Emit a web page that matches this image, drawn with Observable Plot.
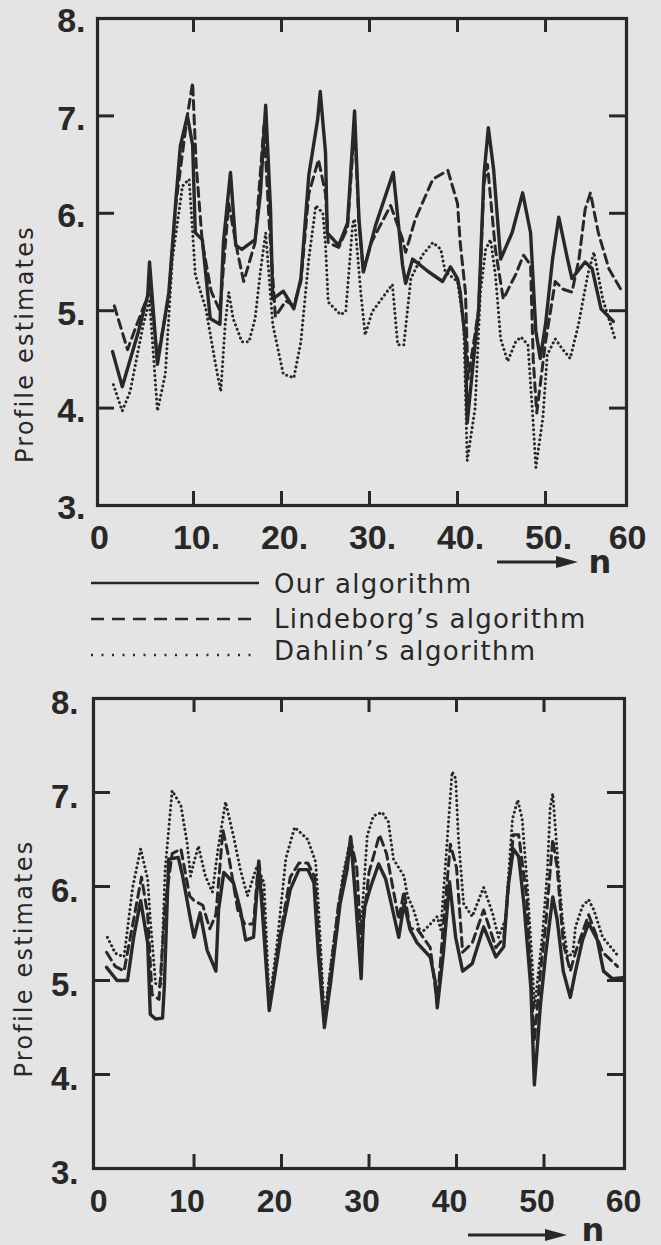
<!DOCTYPE html>
<html><head><meta charset="utf-8">
<script src="https://cdn.jsdelivr.net/npm/d3@7"></script>
<script src="https://cdn.jsdelivr.net/npm/@observablehq/plot@0.6"></script>
<style>
html,body{margin:0;padding:0;background:#e4e4e4;}
#page{position:relative;width:661px;height:1245px;overflow:hidden;background:#e4e4e4;}
#top,#bottom,.over{position:absolute;left:0;}
#top{top:0;} #bottom{top:680px;}
</style></head>
<body><div id="page"><div id="top"></div><div id="bottom"></div>
<svg class="over" id="legend" width="661" height="140" style="top:540px"></svg>
<svg class="over" id="arrow2" width="661" height="45" style="top:1200px"></svg>
</div>
<script>
// ---- data: [n, profile estimate] ----
const yTitle = "Profile estimates";
const seriesNames = ["Our algorithm", "Lindeborg\u2019s algorithm", "Dahlin\u2019s algorithm"];
const yLabels = [3, 4, 5, 6, 7, 8];
const yInnerTicks = [4, 5, 6, 7];
const xInnerTicks = [10, 20, 30, 40, 50];
const xEndTicks = [0, 60];

const topOur = [[0.8,4.58],[1.9,4.22],[3.75,4.79],[4.8,5.16],[5.0,5.5],[5.9,4.45],[7.2,5.19],[8.0,6.14],[8.5,6.69],[9.3,7.0],[9.9,6.7],[10.2,5.8],[11.0,5.73],[11.9,4.92],[13.0,4.86],[13.4,5.7],[14.2,6.42],[14.8,5.67],[15.5,5.63],[17.0,5.73],[17.6,6.2],[18.2,7.11],[18.75,6.04],[19.0,5.12],[20.2,5.2],[21.4,5.02],[22.2,5.33],[23.1,6.39],[24.1,6.96],[24.4,7.25],[25.0,6.62],[25.2,5.8],[26.5,5.67],[27.5,5.9],[28.3,7.05],[28.8,5.94],[29.3,5.4],[30.7,5.88],[32.7,6.42],[33.75,5.47],[34.1,5.28],[34.9,5.53],[36.7,5.4],[38.3,5.3],[39.2,5.45],[40.0,5.33],[40.3,5.19],[40.9,4.68],[41.1,3.85],[42.4,5.02],[43.0,6.39],[43.5,6.88],[44.1,6.45],[44.9,5.53],[46.2,5.8],[47.4,6.21],[48.3,5.8],[48.9,4.79],[49.4,4.51],[50.0,4.86],[50.8,5.53],[51.5,5.96],[52.5,5.53],[53.0,5.33],[54.5,5.5],[55.3,5.43],[56.3,5.02],[57.7,4.89]];
const topLind = [[1.0,5.05],[2.5,4.6],[3.4,4.82],[4.8,5.15],[5.0,5.3],[5.9,4.5],[7.2,5.15],[8.0,6.1],[9.3,7.0],[9.9,7.34],[10.3,6.5],[11.0,5.7],[12.0,5.2],[13.0,5.0],[14.0,6.1],[15.0,5.6],[15.7,5.3],[17.0,5.7],[18.0,6.9],[18.6,5.9],[19.3,4.94],[20.5,5.1],[21.4,5.05],[22.2,5.3],[23.1,6.2],[24.2,6.55],[25.0,6.2],[25.3,5.7],[26.5,5.65],[27.5,5.85],[28.3,6.9],[28.8,5.9],[29.3,5.4],[30.2,5.7],[32.4,6.08],[33.7,5.75],[34.1,5.6],[35.2,5.94],[37.2,6.35],[38.9,6.44],[40.0,6.1],[40.3,5.7],[40.9,5.19],[41.2,4.3],[42.4,5.0],[43.0,6.3],[43.4,6.5],[44.3,5.63],[45.2,5.12],[46.6,5.37],[47.5,5.57],[48.3,5.47],[48.6,4.5],[49.0,3.95],[50.0,4.68],[51.1,5.3],[52.0,5.22],[53.0,5.19],[53.8,5.53],[54.5,6.04],[55.1,6.21],[56.0,5.8],[57.2,5.43],[58.75,5.19]];
const topDahl = [[0.9,4.24],[1.9,3.97],[2.8,4.17],[3.75,4.61],[4.3,4.86],[5.0,5.1],[5.9,3.97],[6.8,4.35],[7.6,5.53],[8.75,6.28],[9.5,6.35],[9.9,5.8],[10.2,5.37],[11.4,5.02],[12.5,4.45],[13.1,4.17],[13.6,4.86],[14.0,5.19],[14.5,4.92],[15.5,4.68],[16.3,4.68],[17.0,4.92],[17.6,5.4],[18.2,5.8],[19.0,4.86],[20.2,4.35],[21.4,4.31],[22.2,4.68],[23.1,5.53],[23.9,6.08],[24.7,6.0],[25.0,5.67],[25.3,5.09],[26.7,4.96],[27.3,4.99],[28.1,5.9],[28.3,5.94],[29.0,5.19],[29.5,4.75],[30.3,4.99],[32.6,5.27],[33.2,4.65],[33.9,4.65],[34.7,5.33],[36.0,5.57],[37.2,5.7],[38.1,5.63],[38.6,5.4],[40.0,5.3],[40.7,4.86],[41.1,3.46],[42.0,4.0],[42.6,5.19],[43.2,5.63],[43.75,5.73],[44.3,5.37],[44.9,4.71],[45.7,4.48],[46.6,4.68],[47.2,4.73],[48.0,4.65],[48.6,3.84],[48.9,3.39],[49.7,3.9],[50.2,4.55],[51.1,4.71],[51.9,4.61],[52.8,4.51],[53.75,4.86],[54.8,5.37],[55.5,5.6],[56.5,5.12],[57.9,4.71]];

const botOur = [[0,5.14],[1.2,5.0],[2.4,5.0],[3.1,5.46],[3.9,5.85],[4.7,5.4],[5.0,4.64],[5.6,4.59],[6.4,4.6],[6.6,4.93],[7.1,6.29],[8.2,6.31],[8.7,6.11],[9.6,5.65],[10.0,5.46],[10.7,5.72],[11.5,5.32],[12.5,5.1],[12.8,5.75],[13.4,6.15],[14.5,6.04],[15.3,5.75],[15.9,5.43],[16.8,5.46],[17.4,6.22],[17.8,5.75],[18.6,4.68],[19.9,5.46],[21.0,5.97],[22.0,6.18],[23.0,6.18],[23.7,6.04],[24.2,5.29],[24.9,4.5],[25.6,4.97],[26.7,5.82],[27.5,6.18],[27.9,6.53],[28.5,5.82],[29.1,5.02],[29.4,5.75],[30.2,6.0],[31.1,6.24],[31.9,6.08],[32.7,5.75],[33.4,5.46],[34.0,5.82],[34.7,5.54],[35.5,5.4],[37.0,5.25],[37.6,4.97],[37.8,4.71],[38.5,5.29],[39.2,6.05],[39.9,5.46],[40.7,5.1],[41.8,5.18],[43.1,5.57],[44.5,5.25],[45.4,5.36],[45.9,6.0],[46.5,6.4],[47.1,6.32],[47.7,5.82],[48.5,4.92],[48.9,3.89],[49.6,4.75],[50.2,5.29],[51.0,5.89],[51.5,5.65],[52.2,5.1],[53.0,4.82],[53.6,5.1],[54.4,5.43],[55.1,5.61],[56.1,5.43],[56.8,5.1],[57.8,5.02],[59.0,5.03]];
const botLind = [[0,5.3],[1.0,5.15],[2.0,5.1],[3.0,5.6],[4.0,6.1],[4.7,5.7],[5.2,4.85],[6.0,4.8],[6.7,5.8],[7.5,6.35],[8.5,6.4],[9.5,5.9],[10.0,5.85],[11.0,5.8],[11.8,5.55],[12.5,5.7],[13.3,6.6],[14.0,6.3],[15.0,5.75],[15.8,5.6],[16.8,5.6],[17.4,6.3],[17.9,5.8],[18.6,4.7],[19.5,5.3],[21.0,6.1],[22.0,6.25],[23.0,6.25],[23.8,6.1],[24.9,4.55],[26.5,5.8],[27.9,6.5],[28.6,6.2],[29.1,5.4],[30.0,6.15],[31.2,6.55],[32.0,6.35],[32.8,5.95],[33.4,5.65],[34.0,5.95],[34.7,5.55],[35.5,5.55],[37.0,5.35],[37.8,4.75],[38.5,5.6],[39.3,6.45],[40.0,6.2],[40.7,5.3],[41.8,5.4],[43.1,5.75],[44.5,5.35],[45.4,5.45],[46.5,6.55],[47.1,6.55],[48.0,5.9],[48.9,4.35],[49.6,5.1],[50.2,5.6],[51.0,6.5],[51.5,6.2],[52.2,5.4],[53.0,5.1],[53.6,5.3],[55.1,5.7],[56.7,5.3],[58.4,5.15]];
const botDahl = [[0.1,5.46],[1.0,5.29],[2.0,5.25],[3.0,6.0],[3.9,6.4],[4.7,6.08],[5.0,5.65],[5.6,4.97],[6.2,4.93],[6.7,6.18],[7.5,7.02],[8.5,6.86],[9.2,6.47],[9.6,6.11],[10.0,6.26],[10.5,6.43],[11.3,6.11],[12.1,5.94],[12.7,6.37],[13.6,6.9],[14.5,6.54],[15.3,6.18],[16.1,5.9],[17.2,6.22],[18.0,6.04],[18.6,4.75],[19.5,5.4],[20.5,6.3],[21.5,6.63],[23.0,6.5],[23.9,6.26],[24.2,5.82],[24.9,4.6],[25.8,5.29],[27.0,6.11],[27.9,6.5],[28.7,5.72],[29.1,5.57],[29.8,6.54],[30.5,6.75],[31.5,6.79],[32.2,6.69],[32.8,6.29],[34.0,6.11],[34.4,5.9],[35.1,5.75],[35.9,5.5],[36.7,5.57],[37.8,5.68],[38.2,5.54],[38.7,6.18],[39.5,7.22],[39.9,7.15],[40.2,6.54],[40.8,5.82],[41.8,5.68],[43.1,5.99],[44.1,5.72],[44.8,5.46],[45.6,5.65],[46.4,6.72],[47.0,6.92],[47.5,6.72],[48.1,6.0],[48.7,5.1],[48.9,4.7],[49.8,5.46],[50.4,6.18],[50.7,6.83],[51.0,6.99],[51.5,6.37],[52.1,5.65],[52.7,5.25],[53.3,5.29],[53.6,5.57],[54.4,5.79],[55.1,5.86],[55.7,5.75],[56.7,5.46],[58.4,5.27]];

// ---- drawing ----
const ink = "#282828";
const numFont = "'Liberation Sans', Arial, sans-serif";
const X = d => d[0], Y = d => d[1];

function panel(o) {
  const fw = 661 - o.marginLeft - o.marginRight;        // frame width
  const fh = o.height - o.marginTop - o.marginBottom;   // frame height
  const tickStyle = {stroke: ink, strokeWidth: 3};
  const svg = Plot.plot({
    width: 661, height: o.height,
    marginTop: o.marginTop, marginBottom: o.marginBottom, marginLeft: o.marginLeft, marginRight: o.marginRight,
    style: {background: "transparent", color: ink, fontFamily: numFont, overflow: "visible"},
    x: {domain: o.xDomain},
    y: {domain: [3, 8]},
    marks: [
      Plot.line(o.dahl, {x: X, y: Y, stroke: ink, strokeWidth: 3, strokeDasharray: "0.1 4.6", strokeLinecap: "round", strokeLinejoin: "round"}),
      Plot.line(o.lind, {x: X, y: Y, stroke: ink, strokeWidth: 3, strokeDasharray: "9 5.5", strokeLinejoin: "round"}),
      Plot.line(o.our, {x: X, y: Y, stroke: ink, strokeWidth: 3.4, strokeLinejoin: "round"}),
      Plot.frame({stroke: ink, strokeWidth: 3.2}),
      // inward tick marks on all four sides
      Plot.tickY(yInnerTicks, {y: d => d, insetRight: fw - 17, ...tickStyle}),
      Plot.tickY(yInnerTicks, {y: d => d, insetLeft: fw - 17, ...tickStyle}),
      Plot.tickX(xInnerTicks, {x: d => d, insetBottom: fh - 14, ...tickStyle}),
      Plot.tickX(xInnerTicks, {x: d => d, insetTop: fh - 14, ...tickStyle}),
      // tick labels
      Plot.axisY(yLabels, {anchor: "left", tickSize: 0, tickPadding: o.yPad, tickFormat: d => d + ".", fontSize: o.yFont, fontWeight: "bold", dy: o.yDy, fill: ink, label: null}),
      Plot.axisX(xInnerTicks, {anchor: "bottom", tickSize: 0, tickPadding: o.xPad, tickFormat: o.dotted ? (d => d + ".") : (d => String(d)), fontSize: o.xFont, fontWeight: "bold", dx: o.dxInner, fill: ink, label: null}),
      Plot.axisX(xEndTicks, {anchor: "bottom", tickSize: 0, tickPadding: o.xPad, tickFormat: d => String(d), fontSize: o.xFont, fontWeight: "bold", dx: o.dxEnds, fill: ink, label: null}),
      Plot.text([yTitle], {frameAnchor: "left", textAnchor: "middle", lineAnchor: "middle", rotate: -90, dx: o.labelDx, dy: o.labelDy, fontSize: 24, fontFamily: "DejaVu Sans", fill: ink})
    ]
  });
  d3.select(svg).selectAll('g[aria-label="text"] text').style("letter-spacing", "2.2px");
  return svg;
}

document.getElementById("top").append(panel({
  our: topOur, lind: topLind, dahl: topDahl,
  xDomain: [-0.91, 59.2], height: 556, marginTop: 18, marginBottom: 51, marginLeft: 97, marginRight: 35,
  yPad: 12, yDy: 3, yFont: 34, xPad: 19, xFont: 34, dotted: true, dxInner: 3, dxEnds: -6,
  labelDx: -72, labelDy: 82
}));
document.getElementById("bottom").append(panel({
  our: botOur, lind: botLind, dahl: botDahl,
  xDomain: [-1.49, 59.2], height: 565, marginTop: 18, marginBottom: 77, marginLeft: 93, marginRight: 37,
  yPad: 15, yDy: 5, yFont: 33, xPad: 21, xFont: 32, dotted: false, dxInner: -7, dxEnds: -8,
  labelDx: -69, labelDy: 25
}));

// ---- legend and "n" arrows ----
function arrow(sel, x1, x2, y, nx, nBase) {
  sel.append("line").attr("x1", x1).attr("x2", x2 - 14).attr("y1", y).attr("y2", y).attr("stroke", ink).attr("stroke-width", 3);
  sel.append("path").attr("d", `M${x2 - 22},${y - 6}L${x2},${y}L${x2 - 22},${y + 6}Z`).attr("fill", ink);
  sel.append("text").attr("x", nx).attr("y", nBase).attr("text-anchor", "middle")
    .attr("font-family", "DejaVu Sans").attr("font-weight", "bold").attr("font-size", 32).attr("fill", ink).text("n");
}
const leg = d3.select("#legend");
arrow(leg, 497, 578, 22, 600, 33);
const dashes = [null, "13 8", "2 8.5"];
const lineY = [43, 79, 115];
const textY = [53, 88, 120];
seriesNames.forEach((name, i) => {
  leg.append("line").attr("x1", 91).attr("x2", 259).attr("y1", lineY[i]).attr("y2", lineY[i])
    .attr("stroke", ink).attr("stroke-width", 2.5).attr("stroke-dasharray", dashes[i]);
  leg.append("text").attr("x", 274).attr("y", textY[i]).attr("font-family", "DejaVu Sans").attr("font-size", 26)
    .attr("letter-spacing", "1.3px").attr("fill", ink).text(name);
});
arrow(d3.select("#arrow2"), 468, 567, 35, 593, 41);
</script>
</body></html>
